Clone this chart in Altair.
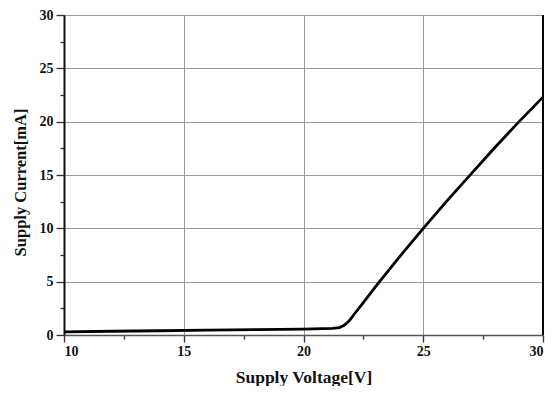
import altair as alt
import pandas as pd

voltage = [10, 12, 14, 16, 18, 20, 21.2, 21.5, 21.7, 21.9, 22.1, 22.4, 23.1, 24.0, 25.0, 26.0, 27.0, 28.0, 29.0, 30.0]
current = [0.3, 0.35, 0.4, 0.45, 0.5, 0.55, 0.62, 0.7, 0.9, 1.3, 1.9, 2.75, 4.8, 7.3, 10.0, 12.6, 15.1, 17.6, 20.0, 22.3]

x_ticks = [10, 12.5, 15, 17.5, 20, 22.5, 25, 27.5, 30]
y_ticks = [0, 2.5, 5, 7.5, 10, 12.5, 15, 17.5, 20, 22.5, 25, 27.5, 30]

df = pd.DataFrame({"V": voltage, "I": current})

FONT = "Liberation Serif"
major = "datum.value % 5 === 0"

x_axis = alt.Axis(
    values=x_ticks,
    title="Supply Voltage[V]",
    labelExpr=f"{major} ? datum.label : ''",
    tickSize={"condition": {"test": major, "value": 7}, "value": 4},
    gridOpacity={"condition": {"test": major, "value": 1}, "value": 0},
    gridColor="#9a9a9a",
    domainColor="#555555",
    domainWidth=1.5,
    tickColor="#333333",
    tickWidth=1.3,
    labelPadding=2,
    titleFont=FONT, titleFontWeight="bold", titleFontSize=17.5, titleColor="#111111",
    titleY=47, titleBaseline="alphabetic",
)
y_axis = alt.Axis(
    values=y_ticks,
    title="Supply Current[mA]",
    labelExpr=f"{major} ? datum.label : ''",
    tickSize={"condition": {"test": major, "value": 8}, "value": 4},
    gridOpacity={"condition": {"test": major, "value": 1}, "value": 0},
    gridColor="#9a9a9a",
    domainColor="#111111",
    domainWidth=2,
    tickColor="#333333",
    tickWidth=1.3,
    labelPadding=3,
    titleFont=FONT, titleFontWeight="bold", titleFontSize=16.5, titleColor="#111111",
    titleX=-44, titleY=167, titleAngle=270, titleAlign="center", titleBaseline="middle",
)

line = alt.Chart(df).mark_line(color="black", strokeWidth=2.8).encode(
    x=alt.X("V:Q", scale=alt.Scale(domain=[10, 30], nice=False), axis=x_axis),
    y=alt.Y("I:Q", scale=alt.Scale(domain=[0, 30], nice=False), axis=y_axis),
)

border = alt.Chart(df).mark_rule(color="black", strokeWidth=2).encode(
    x=alt.datum(30)
)

chart = alt.layer(line, border).properties(
    width=479, height=320,
    autosize=alt.AutoSizeParams(type="none"),
    padding={"left": 56, "top": 7, "right": 6, "bottom": 51},
).configure_view(
    stroke="#8a8a8a", strokeWidth=1
).configure_axis(
    labelFont=FONT, labelFontWeight="bold", labelFontSize=14, labelColor="#111111"
)

chart.save("out.html", embed_options={"renderer": "svg", "actions": False})
